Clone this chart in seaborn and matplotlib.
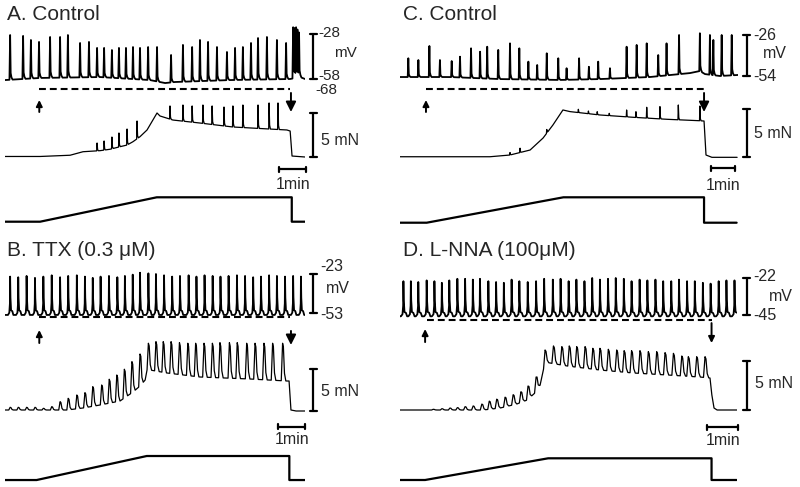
import numpy as np
import matplotlib
matplotlib.use("Agg")
import matplotlib.pyplot as plt
import seaborn as sns

# ---------------- data (time in min, Vm in mV, force in mN) ----------------
# A. Control
a_vm_t = [0.19, 0.67, 0.96, 1.26, 1.67, 2.04, 2.33, 2.78, 3.11, 3.41, 3.67, 3.96, 4.22, 4.48, 4.74, 5.00,
          5.30, 5.63, 6.15, 6.59, 6.93, 7.22, 7.52, 7.85, 8.22, 8.52, 8.81, 9.11, 9.37, 9.70, 10.07, 10.41,
          10.67, 10.72, 10.78, 10.83, 10.89]
a_vm_peak = [-28.7, -29.3, -32, -33.3, -30, -30, -28.7, -34, -33.3, -37.3, -37.3, -38.7, -37.3, -37.3, -36.7, -37.3,
             -36.7, -36.7, -42, -35.3, -36.7, -32, -33.3, -36.7, -40, -37.3, -36.7, -34, -30.7, -30, -32, -34,
             -23.5, -24, -23.5, -25, -27]
a_vm_base_t = [0, 1.30, 3.52, 5.37, 5.93, 6.30, 8.33, 10.56, 10.93, 11.11]
a_vm_base = [-58.7, -57.3, -56.7, -58.7, -60.7, -60.0, -58.7, -58.0, -56.7, -58.0]
a_tone_t = [0, 1.30, 2.41, 2.89, 3.52, 3.89, 4.26, 4.52, 4.74, 5.00, 5.26, 5.63, 5.74, 6.22, 7.22, 8.44,
            10.44, 10.56, 10.63, 11.11]
a_tone = [0.06, 0.06, 0.2, 0.6, 0.72, 0.88, 1.17, 1.36, 1.74, 2.31, 3.07, 5.0, 4.66, 4.20, 3.86, 3.41,
          3.07, 2.95, 0.11, 0.0]
a_twitch_t = [3.41, 3.67, 3.96, 4.22, 4.52, 4.89, 6.11, 6.59, 6.93, 7.33, 7.67, 8.11, 8.44, 8.81, 9.37, 9.78, 10.11]
a_twitch_peak = [1.59, 1.82, 2.27, 2.73, 3.18, 4.09, 5.80, 5.91, 5.80, 5.91, 5.80, 5.68, 5.80, 5.91, 5.91, 6.14, 6.14]
a_stretch_t = [0, 1.30, 5.62, 10.62, 10.62, 11.11]
a_stretch = [0, 0, 1, 1, 0, 0]

# B. TTX (0.3 uM)
b_vm_t = [0.19, 0.49, 0.80, 1.11, 1.42, 1.73, 2.04, 2.34, 2.66, 2.96, 3.25, 3.54, 3.85, 4.16, 4.44, 4.73,
          5.00, 5.31, 5.59, 5.89, 6.19, 6.48, 6.80, 7.09, 7.39, 7.69, 7.98, 8.28, 8.59, 8.89, 9.19, 9.48,
          9.78, 10.07, 10.37, 10.67, 10.96]
b_vm_peak = [-25, -25.5, -24.5, -26, -25, -24, -25.5, -24.5, -24, -25, -26, -25, -24.5, -25.5, -24.5, -23.5,
             -22, -22.5, -23, -24, -25, -24.5, -24, -25, -24, -24.5, -25, -24.5, -24, -24.5, -25.5, -25,
             -24, -24.5, -25, -24.5, -25]
b_vm_base_t = [0, 11.11]
b_vm_base = [-54.5, -54.5]
b_tone_t = [0, 2.30, 2.89, 3.52, 4.26, 4.74, 5.00, 5.19, 5.26, 5.37, 6.00, 7.22, 9.07, 10.44, 10.52, 10.59,
            10.78, 11.11]
b_tone = [0.12, 0.12, 0.36, 0.72, 1.20, 2.28, 3.0, 3.72, 4.92, 4.92, 4.56, 4.08, 3.84, 3.60, 3.60, 0.12, 0, 0]
b_twitch_t = [0.19, 0.49, 0.80, 1.11, 1.42, 1.73, 2.04, 2.34, 2.66, 2.96, 3.25, 3.58, 3.86, 4.14, 4.42, 4.70,
              5.00, 5.31, 5.59, 5.86, 6.15, 6.46, 6.77, 7.06, 7.37, 7.68, 7.96, 8.31, 8.60, 8.95, 9.26, 9.59,
              9.91, 10.28]
b_twitch_peak = [0.44, 0.44, 0.44, 0.44, 0.32, 0.52, 1.12, 1.52, 1.92, 2.2, 2.92, 3.12, 3.81, 4.32, 5.01, 5.92,
                 6.84, 8.13, 8.32, 8.32, 8.32, 8.2, 8.13, 8.13, 8.13, 8.13, 8.2, 8.2, 8.2, 8.13, 8.13, 8.13,
                 8.13, 8.13]
b_stretch_t = [0, 1.17, 5.25, 10.53, 10.53, 11.11]
b_stretch = [0, 0, 1, 1, 0, 0]

# C. Control
c_vm_t = [0.34, 0.75, 1.20, 1.63, 2.11, 2.45, 2.90, 3.27, 3.56, 4.01, 4.49, 4.87, 5.24, 5.60, 5.99, 6.46,
          6.80, 7.31, 7.71, 8.09, 8.57, 9.25, 9.66, 10.07, 10.54, 10.88, 11.39, 12.24, 12.65, 12.79, 13.13, 13.54]
c_vm_peak = [-41.9, -43.1, -33.5, -43.1, -43.8, -40.8, -35.1, -37.4, -34.0, -36.2, -31.7, -35.1, -44.2, -46.5,
             -38.5, -41.9, -48.7, -41.9, -47.7, -44.2, -48.7, -34.0, -32.8, -31.7, -39.7, -31.7, -26.0, -24.8,
             -26.0, -29.4, -26.0, -26.0]
c_vm_base_t = [0, 2.04, 4.08, 6.53, 8.16, 10.2, 11.84, 12.24, 12.45, 13.06, 13.8]
c_vm_base = [-54.7, -54.7, -56.1, -56.7, -56.1, -54.7, -52.0, -50.6, -52.7, -54.0, -53.3]
c_tone_t = [0, 3.67, 4.49, 5.31, 5.84, 6.24, 6.65, 6.94, 8.16, 9.51, 10.90, 12.24, 12.41, 12.49, 12.73, 13.76]
c_tone = [0.06, 0.06, 0.24, 0.76, 2.01, 3.36, 4.93, 4.76, 4.41, 4.17, 3.96, 3.81, 3.78, 0.24, 0, 0]
c_twitch_t = [4.49, 4.90, 5.99, 7.28, 7.69, 8.05, 8.54, 9.25, 9.63, 10.07, 10.61, 11.36, 12.24]
c_twitch_peak = [0.5, 0.95, 2.9, 5.0, 4.82, 4.75, 4.58, 4.93, 4.75, 5.21, 5.28, 5.45, 5.34]
c_stretch_t = [0, 1.09, 6.67, 12.41, 12.41, 13.74]
c_stretch = [0, 0, 1, 1, 0, 0]

# D. L-NNA (100 uM)
d_vm_t = [0.11, 0.35, 0.59, 0.86, 1.11, 1.35, 1.59, 1.85, 2.10, 2.35, 2.58, 2.85, 3.10, 3.35, 3.60, 3.85,
          4.12, 4.39, 4.65, 4.93, 5.18, 5.44, 5.69, 5.95, 6.20, 6.45, 6.71, 6.96, 7.22, 7.47, 7.73, 7.98,
          8.24, 8.49, 8.75, 9.00, 9.26, 9.51, 9.77, 10.02, 10.28, 10.53, 10.79]
d_vm_peak = [-24, -24, -24.5, -23.5, -24, -25, -23.5, -22.5, -22.5, -23, -22.5, -24, -24.5, -25, -23, -24,
             -24.5, -24, -22.5, -23, -22.5, -24, -23, -24, -22, -23, -22.5, -22, -22.5, -24, -23, -23.5,
             -23, -24, -24, -23, -24, -24, -25, -25.5, -24, -23.5, -23.5]
d_vm_base_t = [0, 10.87]
d_vm_base = [-45.8, -45.8]
d_tone_t = [0, 2.68, 3.23, 3.77, 4.10, 4.35, 4.52, 4.61, 4.68, 4.84, 5.39, 6.45, 7.52, 8.61, 9.68, 10.0,
            10.06, 10.13, 10.23, 10.87]
d_tone = [0, 0, 0.20, 0.61, 1.01, 1.72, 2.53, 3.85, 4.86, 4.76, 4.46, 4.05, 3.75, 3.55, 3.34, 3.24,
          1.52, 0.20, 0, 0]
d_twitch_t = [1.07, 1.35, 1.61, 1.85, 2.10, 2.36, 2.64, 2.88, 3.12, 3.39, 3.65, 3.90, 4.13, 4.39, 4.68, 4.95,
              5.22, 5.46, 5.70, 5.97, 6.22, 6.45, 6.72, 6.99, 7.23, 7.47, 7.74, 8.01, 8.28, 8.55, 8.82, 9.09,
              9.30, 9.57, 9.84]
d_twitch_peak = [0.07, 0.13, 0.20, 0.24, 0.34, 0.41, 0.6, 0.9, 1.1, 1.3, 1.55, 1.85, 2.43, 3.34, 6.08, 6.49,
                 6.42, 6.49, 6.42, 6.42, 6.25, 6.25, 6.15, 6.08, 6.01, 6.01, 6.01, 5.91, 5.91, 5.81, 5.74, 5.47,
                 5.40, 5.40, 5.40]
d_stretch_t = [0, 0.81, 4.78, 10.05, 10.05, 10.86]
d_stretch = [0, 0, 1, 1, 0, 0]

# waveform shapes (offset in min, fraction of amplitude)
sharp_spike = ([-0.025, 0, 0.02, 0.05, 0.09], [0, 1, 0.15, 0.05, 0])
broad_spike = ([-0.08, -0.03, -0.008, 0, 0.012, 0.035, 0.08, 0.12], [0, 0.06, 0.3, 1, 0.45, 0.12, 0.1, 0])
sharp_twitch = ([-0.015, 0, 0.02, 0.05], [0, 1, 0.15, 0])
broad_twitch = ([-0.05, -0.02, 0, 0.03, 0.07, 0.12], [0, 0.6, 1, 0.9, 0.2, 0])

sns.set_theme(style="white")
plt.rcParams['font.family'] = ['Liberation Sans', 'DejaVu Sans']

W, H = 800, 487
fig = plt.figure(figsize=(8, 4.87), dpi=100)


def box(x0, x1, y0, y1, xlim, ylim):
    ax = fig.add_axes([x0 / W, 1 - y1 / H, (x1 - x0) / W, (y1 - y0) / H])
    ax.set_xlim(*xlim)
    ax.set_ylim(*ylim)
    ax.axis('off')
    return ax


def trace(ax, base_t, base_v, ev_t, ev_peak, shape, lw):
    base_t = np.asarray(base_t, float)
    base_v = np.asarray(base_v, float)
    st, sf = np.asarray(shape[0]), np.asarray(shape[1])
    t = np.unique(np.concatenate([base_t] + [e + st for e in ev_t]))
    t = t[(t >= base_t[0]) & (t <= base_t[-1])]
    y0 = np.interp(t, base_t, base_v)
    bump = np.zeros_like(t)
    for e, p in zip(ev_t, ev_peak):
        amp = p - np.interp(e, base_t, base_v)
        bump = np.maximum(bump, amp * np.interp(t - e, st, sf, left=0, right=0))
    sns.lineplot(x=t, y=y0 + bump, ax=ax, color='black', lw=lw, estimator=None, sort=False)


def vbar(ax, x, y0, y1, cap):
    ax.plot([x, x], [y0, y1], color='black', lw=1.6, clip_on=False)
    for y in (y0, y1):
        ax.plot([x - cap, x + cap], [y, y], color='black', lw=1.6, clip_on=False)


def hbar(ax, x0, x1, y, cap):
    ax.plot([x0, x1], [y, y], color='black', lw=1.6, clip_on=False)
    for x in (x0, x1):
        ax.plot([x, x], [y - cap, y + cap], color='black', lw=1.6, clip_on=False)


def arrow(ax, x, y_from, y_to, big):
    ax.annotate('', xy=(x, y_to), xytext=(x, y_from), annotation_clip=False,
                arrowprops=dict(arrowstyle='-|>', color='black', lw=1.4, shrinkA=0, shrinkB=0,
                                mutation_scale=15 if big else 9))


LBL = 11.5
TTL = 15

# ---------------- A ----------------
fig.text(7 / W, 1 - 14 / H, 'A. Control', fontsize=TTL, va='center', ha='left')
ax = box(5, 305, 20, 100, (0, 11.11), (-72, -18.67))
trace(ax, a_vm_base_t, a_vm_base, a_vm_t, a_vm_peak, sharp_spike, 1.3)
ax.plot([1.27, 10.56], [-64.9, -64.9], color='black', lw=1.5, dashes=(3.3, 1.9), clip_on=False)
arrow(ax, 1.27, -80, -72, False)
arrow(ax, 10.59, -67.3, -80, True)
vbar(ax, 11.41, -58, -28, 0.13)
ax.text(11.6, -27.3, '-28', fontsize=11, va='center')
ax.text(12.2, -40.7, 'mV', fontsize=11, va='center')
ax.text(11.6, -56.0, '-58', fontsize=11, va='center')
ax.text(11.5, -65.4, '-68', fontsize=11, va='center')

ax = box(5, 305, 95, 165, (0, 11.11), (-0.909, 7.045))
trace(ax, a_tone_t, a_tone, a_twitch_t, a_twitch_peak, sharp_twitch, 0.9)
vbar(ax, 11.41, 0, 5, 0.13)
ax.text(11.7, 1.93, '5 mN', fontsize=LBL, va='center')
hbar(ax, 10.15, 11.15, -1.40, 0.3)
ax.text(10.65, -3.18, '1min', fontsize=LBL, va='center', ha='center')

ax = box(5, 305, 185, 230, (0, 11.11), (-0.34, 1.504))
sns.lineplot(x=a_stretch_t, y=a_stretch, ax=ax, color='black', lw=1.6, estimator=None, sort=False)

# ---------------- B ----------------
fig.text(7 / W, 1 - 251 / H, 'B. TTX (0.3 μM)', fontsize=TTL, va='center', ha='left')
ax = box(5, 305, 255, 330, (0, 11.11), (-66.08, -8.38))
trace(ax, b_vm_base_t, b_vm_base, b_vm_t, b_vm_peak, broad_spike, 1.3)
ax.plot([1.27, 10.56], [-56.3, -56.3], color='black', lw=1.5, dashes=(3.3, 1.9), clip_on=False)
arrow(ax, 1.27, -76.1, -66.1, False)
arrow(ax, 10.59, -66.8, -77.6, True)
vbar(ax, 11.41, -53, -23, 0.13)
ax.text(11.66, -17.6, '-23', fontsize=LBL, va='center')
ax.text(11.9, -33.8, 'mV', fontsize=LBL, va='center')
ax.text(11.66, -54.5, '-53', fontsize=LBL, va='center')

ax = box(5, 305, 330, 420, (0, 11.11), (-1.08, 9.72))
trace(ax, b_tone_t, b_tone, b_twitch_t, b_twitch_peak, broad_twitch, 0.9)
vbar(ax, 11.41, 0, 5, 0.13)
ax.text(11.7, 2.32, '5 mN', fontsize=LBL, va='center')
hbar(ax, 10.12, 11.12, -1.88, 0.3)
ax.text(10.62, -3.48, '1min', fontsize=LBL, va='center', ha='center')

ax = box(5, 305, 445, 487, (0, 11.11), (-0.29, 1.458))
sns.lineplot(x=b_stretch_t, y=b_stretch, ax=ax, color='black', lw=1.6, estimator=None, sort=False)

# ---------------- C ----------------
fig.text(403 / W, 1 - 14 / H, 'C. Control', fontsize=TTL, va='center', ha='left')
ax = box(400, 738, 20, 100, (0, 13.796), (-70.4, -15.75))
trace(ax, c_vm_base_t, c_vm_base, c_vm_t, c_vm_peak, sharp_spike, 1.3)
ax.plot([1.06, 12.45], [-63.1, -63.1], color='black', lw=1.5, dashes=(3.3, 1.9), clip_on=False)
arrow(ax, 1.06, -78.6, -70.4, False)
arrow(ax, 12.41, -65.6, -78.6, True)
vbar(ax, 14.15, -54, -26, 0.14)
ax.text(14.42, -26, '-26', fontsize=LBL, va='center')
ax.text(14.8, -38.3, 'mV', fontsize=LBL, va='center')
ax.text(14.42, -54.5, '-54', fontsize=LBL, va='center')

ax = box(400, 738, 95, 165, (0, 13.796), (-0.80, 6.49))
trace(ax, c_tone_t, c_tone, c_twitch_t, c_twitch_peak, sharp_twitch, 0.9)
vbar(ax, 14.15, 0, 5, 0.14)
ax.text(14.45, 2.5, '5 mN', fontsize=LBL, va='center')
hbar(ax, 12.68, 13.68, -1.15, 0.27)
ax.text(13.18, -2.89, '1min', fontsize=LBL, va='center', ha='center')

ax = box(400, 738, 185, 230, (0, 13.796), (-0.287, 1.484))
sns.lineplot(x=c_stretch_t, y=c_stretch, ax=ax, color='black', lw=1.6, estimator=None, sort=False)

# ---------------- D ----------------
fig.text(403 / W, 1 - 251 / H, 'D. L-NNA (100μM)', fontsize=TTL, va='center', ha='left')
ax = box(400, 737, 255, 330, (0, 10.871), (-54.3, -7.71))
trace(ax, d_vm_base_t, d_vm_base, d_vm_t, d_vm_peak, broad_spike, 1.3)
ax.plot([0.86, 10.05], [-48.1, -48.1], color='black', lw=1.5, dashes=(3.3, 1.9), clip_on=False)
arrow(ax, 0.81, -61.8, -53.7, False)
arrow(ax, 10.05, -50, -62.4, False)
vbar(ax, 11.18, -45, -22, 0.11)
ax.text(11.39, -21.2, '-22', fontsize=LBL, va='center')
ax.text(11.9, -33.6, 'mV', fontsize=LBL, va='center')
ax.text(11.39, -45, '-45', fontsize=LBL, va='center')

ax = box(400, 737, 330, 420, (0, 10.871), (-1.013, 8.105))
trace(ax, d_tone_t, d_tone, d_twitch_t, d_twitch_peak, broad_twitch, 0.9)
vbar(ax, 11.18, 0, 5, 0.11)
ax.text(11.45, 2.7, '5 mN', fontsize=LBL, va='center')
hbar(ax, 9.91, 10.91, -1.75, 0.25)
ax.text(10.41, -3.04, '1min', fontsize=LBL, va='center', ha='center')

ax = box(400, 737, 445, 487, (0, 10.871), (-0.323, 1.613))
sns.lineplot(x=d_stretch_t, y=d_stretch, ax=ax, color='black', lw=1.6, estimator=None, sort=False)

fig.savefig('out.png', dpi=100, facecolor='white')
